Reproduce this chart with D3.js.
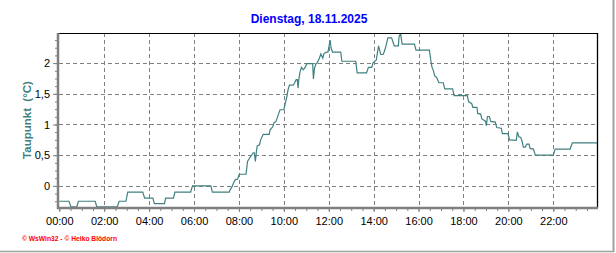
<!DOCTYPE html>
<html>
<head>
<meta charset="utf-8">
<script src="https://cdn.jsdelivr.net/npm/d3@7"></script>
<style>
body { margin: 0; background: #fff; }
svg { display: block; font-family: Arial, "Liberation Sans", sans-serif; }
.grid { stroke: #808080; stroke-width: 1; stroke-dasharray: 4,3; fill: none; }
.line { fill: none; stroke: #408080; stroke-width: 1.2; }
.tickLabel { font-size: 11px; fill: #000; }
</style>
</head>
<body>
<script>
var w = 616;
var h = 253;

var title = "Dienstag, 18.11.2025";
var yLabel = "Taupunkt  (°C)";
var footer = "© WsWin32 - © Heiko Blödorn";

// dew point readings (time of day, °C)
var times = ["00:00","00:26","00:31","00:47","00:51","01:36","01:40","02:35","02:40","02:58",
    "03:03","03:43","03:48","04:10","04:14","04:41","04:44","05:05","05:09","05:51",
    "05:56","06:45","06:49","07:34","07:36","07:41","07:45","07:50","07:56","08:01",
    "08:19","08:23","08:28","08:34","08:38","08:41","08:44","08:47","08:49","08:55",
    "08:58","09:05","09:21","09:23","09:30","09:34","09:39","09:43","09:48","09:50",
    "10:00","10:04","10:08","10:11","10:15","10:25","10:29","10:33","10:36","10:38",
    "10:40","10:43","10:47","10:52","10:57","11:01","11:17","11:19","11:22","11:26",
    "11:29","11:35","11:39","11:44","11:47","11:53","11:58","12:02","12:04","12:06",
    "12:10","12:32","12:35","13:12","13:16","13:41","13:46","13:55","13:58","14:01",
    "14:07","14:13","14:19","14:25","14:28","14:33","14:38","14:48","14:55","15:06",
    "15:08","15:12","15:16","15:49","15:53","16:29","16:33","16:36","16:40","16:43",
    "16:49","16:54","17:06","17:10","17:31","17:35","18:10","18:14","18:22","18:25",
    "18:36","18:38","18:46","18:49","18:55","18:59","19:01","19:04","19:09","19:13",
    "19:25","19:29","19:41","19:44","19:59","20:03","20:21","20:24","20:28","20:33",
    "20:37","20:40","20:45","20:49","20:55","20:58","21:07","21:12","22:00","22:05",
    "22:45","22:51","23:59"];
var values = [-0.25,-0.25,-0.34,-0.34,-0.25,-0.25,-0.34,-0.34,-0.25,-0.25,
    -0.10,-0.10,-0.20,-0.20,-0.29,-0.29,-0.20,-0.20,-0.10,-0.10,
    0.00,0.00,-0.10,-0.10,-0.07,-0.02,0.04,0.10,0.11,0.19,
    0.19,0.40,0.45,0.50,0.54,0.54,0.40,0.58,0.65,0.67,
    0.75,0.84,0.84,0.91,0.96,1.03,1.05,1.12,1.21,1.24,
    1.24,1.35,1.45,1.56,1.64,1.64,1.68,1.73,1.73,1.59,
    1.73,1.85,1.93,1.89,1.93,1.99,1.99,1.74,1.92,1.99,
    2.00,2.08,2.15,2.08,2.15,2.18,2.18,2.32,2.37,2.25,
    2.18,2.18,2.03,2.03,1.84,1.84,1.93,1.93,2.00,2.02,
    2.05,2.28,2.14,2.14,2.18,2.28,2.41,2.41,2.28,2.28,
    2.44,2.48,2.31,2.31,2.21,2.21,2.03,1.93,1.87,1.79,
    1.76,1.68,1.68,1.58,1.58,1.47,1.47,1.37,1.34,1.28,
    1.28,1.18,1.17,1.09,1.07,1.05,0.98,1.13,1.13,1.05,
    1.04,0.95,0.94,0.85,0.85,0.75,0.74,0.88,0.80,0.79,
    0.72,0.63,0.63,0.68,0.68,0.61,0.60,0.50,0.50,0.60,
    0.60,0.70,0.70];

var xTickLabels = ["00:00","02:00","04:00","06:00","08:00","10:00","12:00","14:00","16:00","18:00","20:00","22:00"];
var yTickValues = [0, 0.5, 1, 1.5, 2];
var yTickLabels = ["0", "0,5", "1", "1,5", "2"];

var day = "2025-11-18";
var parseTime = d3.timeParse("%Y-%m-%d %H:%M");

var dataset = times.map(function(t, i){
    return { date: parseTime(day + " " + t), value: values[i] };
});

var plotLeft = 59, plotRight = 597, plotTop = 33, plotBottom = 208;

var svg = d3.select("body")
    .append("svg")
    .attr("width", w)
    .attr("height", h);

// outer frame (right and bottom edges)
svg.append("line")
    .attr("x1", 613.5).attr("y1", 0).attr("x2", 613.5).attr("y2", 252)
    .attr("stroke", "#a0a0a0").attr("stroke-width", 2);
svg.append("line")
    .attr("x1", 0).attr("y1", 251.5).attr("x2", 614).attr("y2", 251.5)
    .attr("stroke", "#a0a0a0").attr("stroke-width", 1.5);

var xScale = d3.scaleTime()
    .domain([parseTime(day + " 00:00"), d3.timeDay.offset(parseTime(day + " 00:00"), 1)])
    .range([59.3, 598.2]);

var yScale = d3.scaleLinear()
    .domain([-0.36, 2.49])
    .range([plotBottom, plotTop]);

// grid
var xGridDates = xTickLabels.slice(1).map(function(t){ return parseTime(day + " " + t); });
svg.selectAll(".vgrid")
    .data(xGridDates)
    .enter().append("line")
    .attr("class", "grid")
    .attr("x1", function(d){ return Math.round(xScale(d)) + 0.5; })
    .attr("x2", function(d){ return Math.round(xScale(d)) + 0.5; })
    .attr("y1", plotTop)
    .attr("y2", plotBottom);

svg.selectAll(".hgrid")
    .data(yTickValues)
    .enter().append("line")
    .attr("class", "grid")
    .attr("x1", plotLeft)
    .attr("x2", plotRight)
    .attr("y1", function(d){ return Math.round(yScale(d)) + 0.5; })
    .attr("y2", function(d){ return Math.round(yScale(d)) + 0.5; });

// data line
svg.append("clipPath")
    .attr("id", "plotClip")
    .append("rect")
    .attr("x", plotLeft).attr("y", plotTop)
    .attr("width", plotRight - plotLeft).attr("height", plotBottom - plotTop);

svg.append("path")
    .datum(dataset)
    .attr("class", "line")
    .attr("clip-path", "url(#plotClip)")
    .attr("d", d3.line()
        .x(function(d){ return xScale(d.date); })
        .y(function(d){ return yScale(d.value); })
    );

// top and right border
svg.append("line")
    .attr("x1", plotLeft).attr("y1", plotTop + 0.5).attr("x2", plotRight + 1).attr("y2", plotTop + 0.5)
    .attr("stroke", "#000").attr("stroke-width", 1);
svg.append("line")
    .attr("x1", plotRight + 0.5).attr("y1", plotTop).attr("x2", plotRight + 0.5).attr("y2", plotBottom)
    .attr("stroke", "#000").attr("stroke-width", 1.3);

// x axis
var xMinor = d3.timeMinute.every(30).range(xScale.domain()[0], xScale.domain()[1]);
var xAxisMinor = d3.axisBottom(xScale)
    .tickValues(xMinor)
    .tickSize(3)
    .tickFormat("");
svg.append("g")
    .attr("transform", "translate(0," + plotBottom + ")")
    .call(xAxisMinor)
    .call(function(g){
        g.select(".domain").remove();
        g.selectAll(".tick line").attr("stroke", "#808080");
    });

var xAxis = d3.axisBottom(xScale)
    .tickValues(xTickLabels.map(function(t){ return parseTime(day + " " + t); }))
    .tickSize(4)
    .tickPadding(5)
    .tickFormat(d3.timeFormat("%H:%M"));
svg.append("g")
    .attr("transform", "translate(0," + plotBottom + ")")
    .call(xAxis)
    .call(function(g){
        g.select(".domain").remove();
        g.selectAll(".tick line").attr("stroke", "#808080");
        g.selectAll(".tick text").attr("class", "tickLabel").attr("font-family", null).attr("font-size", null);
    });

// y axis
var yMinor = d3.range(-0.25, 2.49, 0.125);
var yAxisMinor = d3.axisLeft(yScale)
    .tickValues(yMinor)
    .tickSize(3)
    .tickFormat("");
svg.append("g")
    .attr("transform", "translate(" + (plotLeft - 1) + ",0)")
    .call(yAxisMinor)
    .call(function(g){
        g.select(".domain").remove();
        g.selectAll(".tick line").attr("stroke", "#808080");
    });

var yAxis = d3.axisLeft(yScale)
    .tickValues(yTickValues)
    .tickSize(5)
    .tickPadding(3)
    .tickFormat(function(d, i){ return yTickLabels[i]; });
svg.append("g")
    .attr("transform", "translate(" + (plotLeft - 1) + ",0)")
    .call(yAxis)
    .call(function(g){
        g.select(".domain").remove();
        g.selectAll(".tick line").attr("stroke", "#808080");
        g.selectAll(".tick text").attr("class", "tickLabel").attr("font-family", null).attr("font-size", null);
    });

// gray axis lines
svg.append("line")
    .attr("x1", plotLeft - 1).attr("y1", plotTop).attr("x2", plotLeft - 1).attr("y2", plotBottom + 1)
    .attr("stroke", "#808080").attr("stroke-width", 2.5);
svg.append("line")
    .attr("x1", plotLeft - 2).attr("y1", plotBottom).attr("x2", plotRight + 1).attr("y2", plotBottom)
    .attr("stroke", "#808080").attr("stroke-width", 2.5);

// title
svg.append("text")
    .attr("x", 309)
    .attr("y", 23)
    .attr("text-anchor", "middle")
    .attr("font-size", "12px")
    .attr("font-weight", "bold")
    .attr("fill", "#0000ff")
    .text(title);

// y label
svg.append("text")
    .attr("transform", "translate(31,120) rotate(-90)")
    .attr("text-anchor", "middle")
    .attr("font-size", "11.5px")
    .attr("font-weight", "bold")
    .attr("fill", "#408080")
    .style("white-space", "pre")
    .text(yLabel);

// footer
svg.append("text")
    .attr("x", 22)
    .attr("y", 241)
    .attr("font-size", "7px")
    .attr("font-weight", "bold")
    .attr("fill", "#ff0000")
    .attr("textLength", 95)
    .attr("lengthAdjust", "spacingAndGlyphs")
    .text(footer);
</script>
</body>
</html>
